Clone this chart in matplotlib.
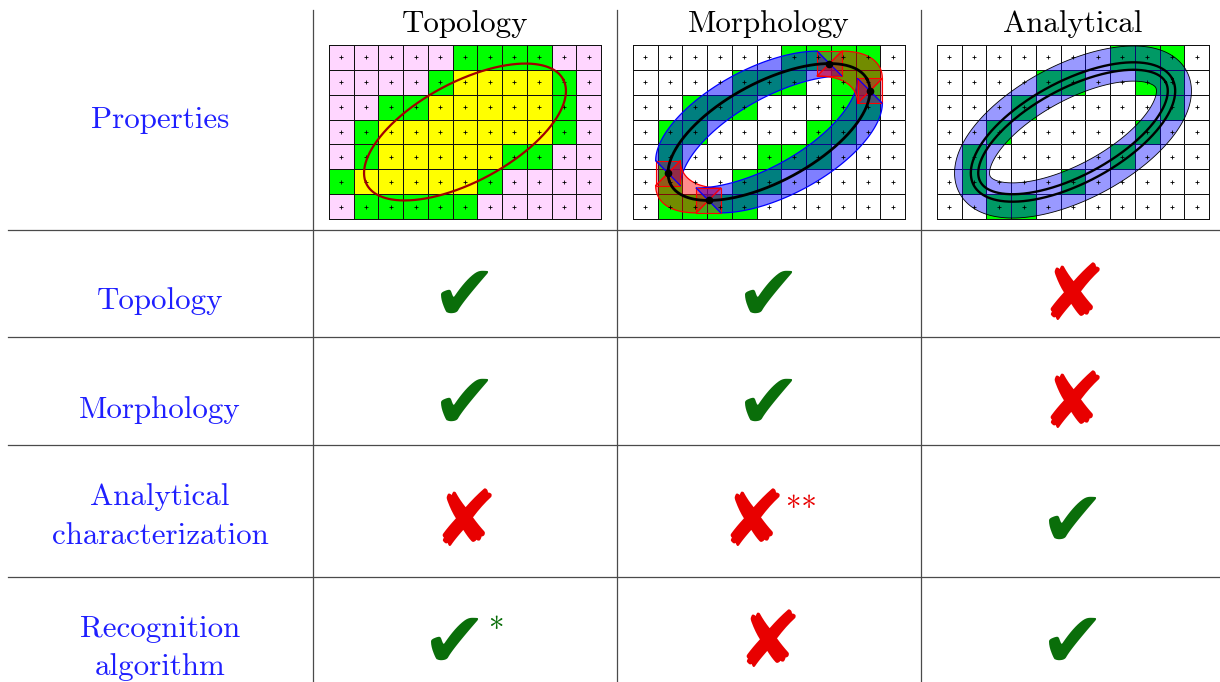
import numpy as np
import matplotlib
matplotlib.use("Agg")
import matplotlib.pyplot as plt
from matplotlib.colors import ListedColormap
from matplotlib.patches import Polygon, PathPatch
from matplotlib.path import Path

# ---------------- data ----------------
col_headers = ["Topology", "Morphology", "Analytical"]
corner_label = "Properties"
row_labels = ["Topology", "Morphology", "Analytical\ncharacterization",
              "Recognition\nalgorithm"]
# 1 = check mark, 0 = cross
marks = [[1, 1, 0],
         [1, 1, 0],
         [0, 0, 1],
         [1, 0, 1]]
notes = [["", "", ""],
         ["", "", ""],
         ["", "**", ""],
         ["*", "", ""]]

# cell codes: '.' white, 'P' pink, 'G' green, 'Y' yellow (top row first)
grid_topology = ["PPPPPGGGGPP",
                 "PPPPGYYYYGP",
                 "PPGGYYYYYGP",
                 "PGYYYYYYYGP",
                 "PGYYYYYGGPP",
                 "GYYYYYGPPPP",
                 "PGGGGGPPPPP"]
grid_morphology = ["......GGGG.",
                   "....GGG.GG.",
                   "..GGG...GG.",
                   ".GG....GG..",
                   ".G...GGG...",
                   ".G..GG.....",
                   ".GGGG......"]
grid_analytical = [".......GGG.",
                   "....GG..GG.",
                   "...G.....G.",
                   "..G.....G..",
                   ".G.....G...",
                   ".G...G.....",
                   "..GG......."]

ellipse_center = (5.5, 3.5)     # in cell units
ellipse_a = 4.5
ellipse_b = 2.0
ellipse_angle_deg = 28.0
analytic_band_half = 0.707      # half width of analytical band (cells)
analytic_curve_offsets = [0.05, -0.25]
morph_half_side = 0.5

# ---------------- figure ----------------
W, H = 1220, 682
fig = plt.figure(figsize=(W / 100, H / 100), dpi=100)
ax = fig.add_axes([0, 0, 1, 1])
ax.set_xlim(0, W)
ax.set_ylim(H, 0)
ax.axis("off")

SERIF = ["cmr10", "DejaVu Serif"]
BLUE_TXT = "#1f1fff"
line_col = "#4a4a4a"

vx = [313, 617, 921]
hy = [230, 337, 445, 577]
for x in vx:
    ax.plot([x, x], [10, H], color=line_col, lw=0.9)
for y in hy:
    ax.plot([8, W], [y, y], color=line_col, lw=0.9)

col_x = [465, 769, 1073]
label_x = 160
fs = 22.3

for x, t in zip(col_x, col_headers):
    ax.text(x, 32, t, ha="center", va="baseline", fontsize=fs, family=SERIF)

ax.text(label_x, 128, corner_label, ha="center", va="baseline", fontsize=fs,
        family=SERIF, color=BLUE_TXT)

label_baselines = [[309], [418], [505, 544], [637, 675]]
for lab, bls in zip(row_labels, label_baselines):
    for part, bl in zip(lab.split("\n"), bls):
        ax.text(label_x, bl, part, ha="center", va="baseline", fontsize=fs,
                family=SERIF, color=BLUE_TXT)

mark_y = [298, 406, 524, 645]
CHECK_COL = "#0a6e0a"
CROSS_COL = "#e80000"
shift = {"": 0, "*": -10, "**": -16}
note_dx = {1: 34, 0: 33}
for r in range(len(marks)):
    for c in range(3):
        ok = marks[r][c]
        note = notes[r][c]
        mx = col_x[c] + shift[note]
        col = CHECK_COL if ok else CROSS_COL
        ax.text(mx, mark_y[r], "\u2714" if ok else "\u2718", ha="center",
                va="center", fontsize=56, color=col, family="DejaVu Sans")
        if note:
            ax.text(mx + note_dx[ok], mark_y[r] - 14, note, ha="left",
                    va="center", fontsize=fs, color=col,
                    family=["cmr10", "DejaVu Sans"])

# ---------------- grids ----------------
palette = {".": "#ffffff", "P": "#ffd6ff", "G": "#00ff00", "Y": "#ffff00"}
codes = list(palette.keys())
cmap = ListedColormap([palette[k] for k in codes])

grid_left = [329, 633, 937]
grid_top, grid_w, grid_h = 45, 272, 174


def ellipse_pts(t, off=0.0):
    th = np.deg2rad(ellipse_angle_deg)
    cth, sth = np.cos(th), np.sin(th)
    ex, ey = ellipse_a * np.cos(t), ellipse_b * np.sin(t)
    px = ellipse_center[0] + cth * ex - sth * ey
    py = ellipse_center[1] + sth * ex + cth * ey
    nx0, ny0 = ellipse_b * np.cos(t), ellipse_a * np.sin(t)
    nx, ny = cth * nx0 - sth * ny0, sth * nx0 + cth * ny0
    nn = np.hypot(nx, ny)
    nx, ny = nx / nn, ny / nn
    return px + off * nx, py + off * ny, nx, ny


def make_grid_axes(i, rows):
    gax = fig.add_axes([grid_left[i] / W, (H - grid_top - grid_h) / H,
                        grid_w / W, grid_h / H])
    nr, nc = len(rows), len(rows[0])
    arr = np.array([[codes.index(ch) for ch in row] for row in rows[::-1]])
    mesh = gax.pcolormesh(np.arange(nc + 1), np.arange(nr + 1), arr,
                          cmap=cmap, vmin=-0.5, vmax=len(codes) - 0.5,
                          edgecolors="#111111", linewidth=0.55)
    mesh.set_clip_on(False)
    cx, cy = np.meshgrid(np.arange(nc) + 0.5, np.arange(nr) + 0.5)
    gax.plot(cx.ravel(), cy.ravel(), "+", color="black", ms=2.8, mew=0.6)
    gax.set_xlim(0, nc)
    gax.set_ylim(0, nr)
    gax.axis("off")
    return gax


t = np.linspace(0, 2 * np.pi, 3601)[:-1]

# Grid 1: topology
g1 = make_grid_axes(0, grid_topology)
px, py, _, _ = ellipse_pts(np.append(t, t[0]))
g1.plot(px, py, color="#a00000", lw=1.6)

# Grid 2: morphology
g2 = make_grid_axes(1, grid_morphology)
px, py, nx, ny = ellipse_pts(t)
q = (nx >= 0).astype(int) * 2 + (ny >= 0).astype(int)
starts = np.nonzero(q != np.roll(q, 1))[0]
n = len(t)
ext_pts = []
for k in range(len(starts)):
    i0 = starts[k]
    i1 = starts[(k + 1) % len(starts)]
    if i1 <= i0:
        i1 += n
    idx = np.arange(i0, i1 + 1) % n
    j = (i0 + 1) % n
    sx = morph_half_side if nx[j] >= 0 else -morph_half_side
    sy = morph_half_side if ny[j] >= 0 else -morph_half_side
    outer = np.column_stack([px[idx] + sx, py[idx] + sy])
    inner = np.column_stack([px[idx] - sx, py[idx] - sy])[::-1]
    red = sx * sy > 0
    fc = (1, 0, 0, 0.45) if red else (0, 0, 1, 0.5)
    ec = "red" if red else "blue"
    g2.add_patch(Polygon(np.vstack([outer, inner]), closed=True, fc=fc,
                         ec=ec, lw=0.9))
    ext_pts.append((px[i0], py[i0]))
h = morph_half_side
for (ex, ey) in ext_pts:
    sq = np.array([[ex - h, ey - h], [ex + h, ey - h], [ex + h, ey + h],
                   [ex - h, ey + h]])
    g2.add_patch(Polygon(sq, closed=True, fc=(0.8, 0, 0.3, 0.35), ec="red",
                         lw=0.8))
    g2.plot([ex - h, ex + h], [ey - h, ey + h], color="red", lw=0.8)
    g2.plot([ex - h, ex + h], [ey + h, ey - h], color="blue", lw=0.8)
px, py, _, _ = ellipse_pts(np.append(t, t[0]))
g2.plot(px, py, color="black", lw=2.0)
g2.plot([p[0] for p in ext_pts], [p[1] for p in ext_pts], "o", color="black",
        ms=4.5)

# Grid 3: analytical
g3 = make_grid_axes(2, grid_analytical)
ox, oy, _, _ = ellipse_pts(t, analytic_band_half)
ix, iy, _, _ = ellipse_pts(t, -analytic_band_half)
verts = np.vstack([np.column_stack([ox, oy]), [[ox[0], oy[0]]],
                   np.column_stack([ix, iy])[::-1], [[ix[-1], iy[-1]]]])
codes_p = ([Path.MOVETO] + [Path.LINETO] * (len(ox) - 1) + [Path.CLOSEPOLY]
           + [Path.MOVETO] + [Path.LINETO] * (len(ix) - 1) + [Path.CLOSEPOLY])
g3.add_patch(PathPatch(Path(verts, codes_p), fc=(0, 0, 1, 0.4), ec="black",
                       lw=0.6))
for off in analytic_curve_offsets:
    cxp, cyp, _, _ = ellipse_pts(np.append(t, t[0]), off)
    g3.plot(cxp, cyp, color="black", lw=1.7)

fig.savefig("out.png", dpi=100)
